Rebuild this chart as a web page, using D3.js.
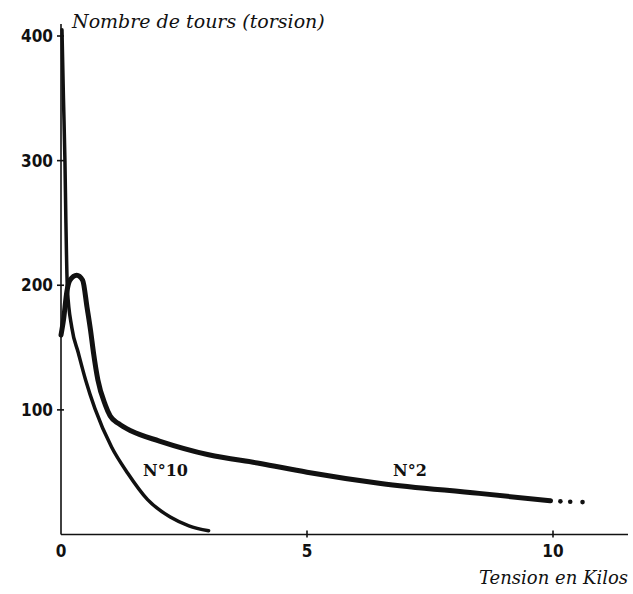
<!DOCTYPE html>
<html><head><meta charset="utf-8">
<script src="https://cdn.jsdelivr.net/npm/d3@7"></script>
<style>body{margin:0;background:#fff}</style>
</head><body><div id="chart"></div>
<script>
const xTicks = [0, 5, 10];
const yTicks = [100, 200, 300, 400];
const no10X = [0.02,0.05,0.08,0.1,0.13,0.22,0.35,0.5,0.69,1.03,1.36,1.76,2.22,2.6,3.0];
const no10Y = [405,350,300,250,197,166,146,124,101,70,49,28,14,7,3];
const no2X = [0.0,0.05,0.12,0.18,0.32,0.44,0.53,0.6,0.66,0.75,0.9,1.0,1.17,1.43,2.0,3.0,4.05,5.0,6.5,8.5,9.95];
const no2Y = [160,172,195,204,208,204,182,164,146,124,104,95,89,83,75,64,57,50,41,33,27];
const no2DotsX = [10.15,10.35,10.6];
const no2DotsY = [26.6,26.3,26];
const yTitle = "Nombre de tours (torsion)";
const xTitle = "Tension en Kilos";

const W = 633, H = 594;
const svg = d3.select("#chart").append("svg").attr("width", W).attr("height", H);
const x = d3.scaleLinear().domain([0, 10]).range([61, 553]);
const y = d3.scaleLinear().domain([0, 400]).range([534.5, 36]);

const ink = "#111";
svg.append("line").attr("x1", x(0)).attr("x2", 628).attr("y1", y(0)).attr("y2", y(0))
  .attr("stroke", ink).attr("stroke-width", 1.6);
svg.append("line").attr("x1", x(0)).attr("x2", x(0)).attr("y1", y(0)).attr("y2", 24)
  .attr("stroke", ink).attr("stroke-width", 1.6);

const tf = "'DejaVu Sans Condensed', 'DejaVu Sans', sans-serif";
svg.selectAll(".xt").data(xTicks.filter(d => d > 0)).enter().append("line")
  .attr("x1", d => x(d)).attr("x2", d => x(d)).attr("y1", y(0) - 4).attr("y2", y(0) + 3)
  .attr("stroke", ink).attr("stroke-width", 1.6);
svg.selectAll(".xl").data(xTicks).enter().append("text")
  .attr("x", d => x(d)).attr("y", y(0) + 22).attr("text-anchor", "middle")
  .attr("font-family", tf).attr("font-weight", "bold").attr("font-size", 17).attr("fill", ink)
  .text(d => d);
svg.selectAll(".yt").data(yTicks).enter().append("line")
  .attr("x1", x(0) - 4).attr("x2", x(0) + 3).attr("y1", d => y(d)).attr("y2", d => y(d))
  .attr("stroke", ink).attr("stroke-width", 1.6);
svg.selectAll(".yl").data(yTicks).enter().append("text")
  .attr("x", x(0) - 8).attr("y", d => y(d) + 6).attr("text-anchor", "end")
  .attr("font-family", tf).attr("font-weight", "bold").attr("font-size", 17).attr("fill", ink)
  .text(d => d);

const line = d3.line().x(d => x(d[0])).y(d => y(d[1])).curve(d3.curveMonotoneX);
svg.append("path").datum(no10X.map((v, i) => [v, no10Y[i]])).attr("d", line)
  .attr("fill", "none").attr("stroke", ink).attr("stroke-width", 3.5).attr("stroke-linecap", "round");
svg.append("path").datum(no2X.map((v, i) => [v, no2Y[i]])).attr("d", line)
  .attr("fill", "none").attr("stroke", ink).attr("stroke-width", 5).attr("stroke-linecap", "round").attr("stroke-linejoin", "round");
svg.selectAll(".dot").data(no2DotsX.map((v, i) => [v, no2DotsY[i]])).enter().append("circle")
  .attr("cx", d => x(d[0])).attr("cy", d => y(d[1])).attr("r", 2.3).attr("fill", ink);

const lf = "'DejaVu Serif', serif";
svg.append("text").attr("x", 143).attr("y", 476).attr("font-family", lf).attr("font-weight", "bold")
  .attr("font-size", 16).attr("fill", ink).text("N°10");
svg.append("text").attr("x", 393).attr("y", 476).attr("font-family", lf).attr("font-weight", "bold")
  .attr("font-size", 16).attr("fill", ink).text("N°2");

const sf = "'DejaVu Serif', 'Liberation Serif', serif";
svg.append("text").attr("x", 72).attr("y", 28).attr("font-family", sf).attr("font-style", "italic")
  .attr("font-size", 19).attr("fill", ink).text(yTitle);
svg.append("text").attr("x", 628).attr("y", 584).attr("text-anchor", "end").attr("font-family", sf)
  .attr("font-style", "italic").attr("font-size", 18).attr("fill", ink).text(xTitle);
</script></body></html>
